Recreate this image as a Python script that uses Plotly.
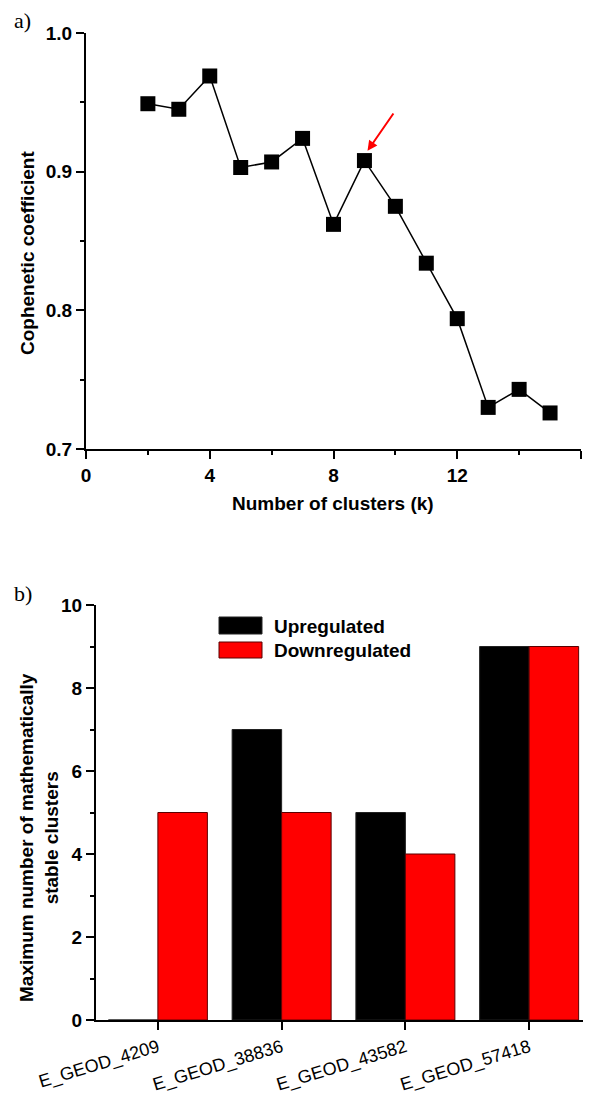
import plotly.graph_objects as go

# ---- data ----
k_values = [2, 3, 4, 5, 6, 7, 8, 9, 10, 11, 12, 13, 14, 15]
cophenetic = [0.949, 0.945, 0.969, 0.903, 0.907, 0.924, 0.862, 0.908,
              0.875, 0.834, 0.794, 0.730, 0.743, 0.726]

datasets = ["E_GEOD_4209", "E_GEOD_38836", "E_GEOD_43582", "E_GEOD_57418"]
upregulated = [0, 7, 5, 9]
downregulated = [5, 5, 4, 9]

# page body has an 8px margin: figure is sized/positioned to compensate
OFF = 8
W, H = 591 - OFF, 1097 - OFF
FONT = "Liberation Sans, Arial, sans-serif"
BOLD = dict(family=FONT, size=19, color="black", weight="bold")


def px_x(p):
    return (p - OFF) / W


def px_y(p):
    return 1 - (p - OFF) / H


fig = go.Figure()

fig.add_trace(go.Scatter(
    x=k_values, y=cophenetic, mode="lines+markers",
    line=dict(color="black", width=1.5),
    marker=dict(symbol="square", size=15, color="black"),
    xaxis="x", yaxis="y", showlegend=False,
))

fig.add_trace(go.Bar(
    x=datasets, y=upregulated, name="Upregulated",
    marker=dict(color="black", line=dict(color="#222222", width=1)),
    xaxis="x2", yaxis="y2", showlegend=False,
))
fig.add_trace(go.Bar(
    x=datasets, y=downregulated, name="Downregulated",
    marker=dict(color="#ff0000", line=dict(color="#5a0000", width=1)),
    xaxis="x2", yaxis="y2", showlegend=False,
))

axis_common = dict(
    showline=True, linewidth=2, linecolor="black", mirror=False,
    showgrid=False, zeroline=False, ticks="outside", tickwidth=2,
    tickcolor="black", tickfont=BOLD, automargin=False,
)

fig.update_layout(
    template="none",
    width=W, height=H,
    margin=dict(l=0, r=0, t=0, b=0, pad=0, autoexpand=False),
    paper_bgcolor="white", plot_bgcolor="white",
    barmode="group", bargap=0.2, bargroupgap=0,
    xaxis=dict(
        **axis_common, domain=[px_x(86), px_x(581)], range=[0, 16],
        dtick=4, tick0=0, ticklen=8,
        minor=dict(dtick=2, ticks="outside", ticklen=4, tickwidth=2, tickcolor="black"),
        anchor="y",
    ),
    yaxis=dict(
        **axis_common, domain=[px_y(449), px_y(33)], range=[0.7, 1.0],
        dtick=0.1, tick0=0.7, tickformat=".1f", ticklen=8,
        minor=dict(dtick=0.05, ticks="outside", ticklen=4, tickwidth=2, tickcolor="black"),
        anchor="x",
    ),
    xaxis2=dict(
        showline=True, linewidth=2, linecolor="black", showgrid=False,
        zeroline=False, ticks="outside", ticklen=8, tickwidth=2, tickcolor="black",
        tickfont=dict(family=FONT, size=18, color="black"), automargin=False,
        tickangle=-17,
        domain=[px_x(96), 1.0], range=[-0.5, 3.5],
        anchor="y2",
    ),
    yaxis2=dict(
        **axis_common, domain=[px_y(1020), px_y(605)], range=[0, 10],
        dtick=2, tick0=0, ticklen=8,
        minor=dict(dtick=1, ticks="outside", ticklen=4, tickwidth=2, tickcolor="black"),
        anchor="x2",
    ),
)

SERIF = dict(family="Liberation Serif, Times New Roman, serif", size=22, color="black")
annotations = [
    dict(text="a)", x=px_x(12), y=px_y(20), xanchor="left", yanchor="middle", font=SERIF),
    dict(text="b)", x=px_x(12), y=px_y(593), xanchor="left", yanchor="middle", font=SERIF),
    dict(text="Cophenetic coefficient", x=px_x(27), y=px_y(253), textangle=-90,
         xanchor="center", yanchor="middle", font=BOLD),
    dict(text="Number of clusters (k)", x=px_x(333), y=px_y(503),
         xanchor="center", yanchor="middle", font=BOLD),
    dict(text="Maximum number of mathematically<br>stable clusters", x=px_x(39), y=px_y(838),
         textangle=-90, xanchor="center", yanchor="middle", font=BOLD),
    dict(text="Upregulated", x=px_x(272), y=px_y(626), xanchor="left", yanchor="middle", font=BOLD),
    dict(text="Downregulated", x=px_x(272), y=px_y(650), xanchor="left", yanchor="middle", font=BOLD),
]
for a in annotations:
    a.update(xref="paper", yref="paper", showarrow=False)

annotations.append(dict(
    x=9.1, y=0.915, ax=9.97, ay=0.943, xref="x", yref="y", axref="x", ayref="y",
    showarrow=True, arrowhead=2, arrowsize=1, arrowwidth=2, arrowcolor="#ff0000", text="",
))
fig.update_layout(annotations=annotations)

fig.update_layout(shapes=[
    dict(type="rect", xref="paper", yref="paper",
         x0=px_x(219), x1=px_x(262), y0=px_y(634), y1=px_y(617),
         fillcolor="black", line=dict(color="#222222", width=1)),
    dict(type="rect", xref="paper", yref="paper",
         x0=px_x(219), x1=px_x(262), y0=px_y(658), y1=px_y(642),
         fillcolor="#ff0000", line=dict(color="#5a0000", width=1)),
])

fig.write_html("out.html")
